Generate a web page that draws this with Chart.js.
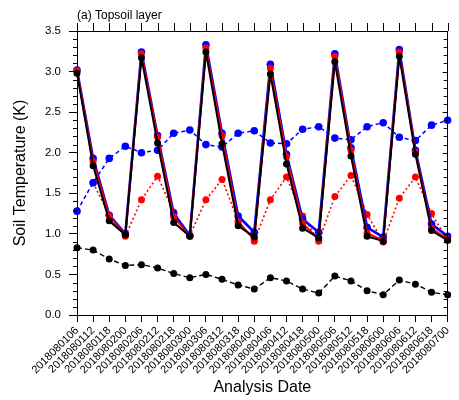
<!DOCTYPE html>
<html><head><meta charset="utf-8">
<script src="https://cdn.jsdelivr.net/npm/chart.js@4"></script>
<style>html,body{margin:0;padding:0;background:#fff}#w{width:459px;height:400px}</style>
</head><body><div id="w"><canvas id="c" width="459" height="400"></canvas></div>
<script>
const categories = ['2018080106','2018080112','2018080118','2018080200','2018080206','2018080212','2018080218','2018080300',
  '2018080306','2018080312','2018080318','2018080400','2018080406','2018080412','2018080418','2018080500',
  '2018080506','2018080512','2018080518','2018080600','2018080606','2018080612','2018080618','2018080700'];
const blueSolid  = [3.02,1.93,1.23,1.00,3.24,2.21,1.25,0.98,3.33,2.24,1.22,1.02,3.09,1.98,1.18,1.02,3.22,2.06,1.08,0.96,3.27,2.03,1.12,0.97];
const redSolid   = [3.01,1.89,1.22,0.98,3.22,2.19,1.21,0.97,3.29,2.21,1.15,0.93,3.04,1.95,1.13,0.93,3.19,2.03,1.01,0.92,3.24,2.01,1.07,0.93];
const blackSolid = [2.98,1.84,1.16,0.99,3.17,2.12,1.14,0.97,3.24,2.11,1.10,0.96,2.97,1.86,1.07,0.95,3.12,1.96,0.97,0.91,3.19,1.98,1.04,0.92];
const redDotted  = [null,1.63,1.23,0.97,1.42,1.71,1.27,0.98,1.42,1.67,1.16,0.91,1.42,1.70,1.22,0.91,1.46,1.72,1.24,0.90,1.44,1.70,1.25,0.92];
const blueDashed = [1.28,1.63,1.93,2.08,2.00,2.03,2.24,2.28,2.10,2.07,2.24,2.27,2.12,2.11,2.29,2.32,2.18,2.16,2.32,2.37,2.19,2.15,2.34,2.40];
const blackDashed= [0.83,0.80,0.69,0.61,0.62,0.58,0.51,0.46,0.50,0.44,0.37,0.32,0.46,0.42,0.32,0.27,0.48,0.42,0.30,0.25,0.43,0.38,0.28,0.25];
const yTicks = [0,0.5,1,1.5,2,2.5,3,3.5];
const titleText = '(a) Topsoil layer';
const xTitle = 'Analysis Date';
const yTitle = 'Soil Temperature (K)';

const FONT = '"Liberation Sans", Arial, Helvetica, sans-serif';

const deco = {
  id: 'deco',
  afterDraw(chart) {
    const ctx = chart.ctx, a = chart.chartArea, xs = chart.scales.x, ys = chart.scales.y;
    ctx.save();
    ctx.strokeStyle = '#000'; ctx.lineWidth = 1;
    ctx.beginPath();
    ctx.moveTo(a.left, Math.round(a.top) + 0.5); ctx.lineTo(a.right, Math.round(a.top) + 0.5);
    ctx.moveTo(Math.round(a.right) - 0.5, a.top); ctx.lineTo(Math.round(a.right) - 0.5, a.bottom);
    categories.forEach((c, i) => {
      const px = Math.round(xs.getPixelForValue(i)) + 0.5;
      ctx.moveTo(px, a.top); ctx.lineTo(px, a.top - 8);
    });
    for (let k = 0; k <= 35; k++) {
      const py = Math.round(ys.getPixelForValue(k / 10)) + 0.5;
      if (k % 5 === 0) {
        ctx.moveTo(a.right, py); ctx.lineTo(a.right - 5, py);
      } else {
        ctx.moveTo(a.left, py); ctx.lineTo(a.left - 4, py);
        ctx.moveTo(a.right, py); ctx.lineTo(a.right - 4, py);
      }
    }
    ctx.stroke();
    ctx.fillStyle = '#000';
    ctx.font = '12px ' + FONT;
    ctx.textAlign = 'left'; ctx.textBaseline = 'alphabetic';
    ctx.fillText(titleText, a.left, 19);
    ctx.font = '16px ' + FONT;
    ctx.textAlign = 'center';
    ctx.fillText(xTitle, (a.left + a.right) / 2, 392);
    ctx.translate(25, (a.top + a.bottom) / 2);
    ctx.rotate(-Math.PI / 2);
    ctx.fillText(yTitle, 0, 0);
    ctx.restore();
  }
};

function ds(data, color, width, dash, radius) {
  return { data, borderColor: color, backgroundColor: color, borderWidth: width, borderDash: dash,
    borderJoinStyle: 'round', borderCapStyle: 'butt',
    pointRadius: radius, pointBackgroundColor: color, pointBorderWidth: 0, tension: 0, fill: false };
}

new Chart(document.getElementById('c'), {
  type: 'line',
  data: {
    labels: categories,
    datasets: [
      ds(blackSolid, '#000000', 2, [], 3.5),
      ds(redSolid, '#ff0000', 2, [], 3.5),
      ds(blueSolid, '#0000ff', 2.6, [], 3.8),
      ds(blackDashed, '#000000', 1.4, [5, 3], 3.5),
      ds(blueDashed, '#0000ff', 1.5, [4, 3], 3.8),
      ds(redDotted, '#ff0000', 1.6, [2, 2.5], 3.5)
    ]
  },
  options: {
    responsive: false, animation: false, events: [],
    layout: { padding: { top: 31, right: 2, left: 0, bottom: 0 } },
    plugins: { legend: { display: false }, tooltip: { enabled: false }, title: { display: false } },
    scales: {
      x: {
        type: 'category', offset: false,
        grid: { drawOnChartArea: false, tickLength: 7, color: '#000' },
        border: { color: '#000' },
        ticks: { autoSkip: false, maxRotation: 45, minRotation: 45, color: '#000', font: { family: FONT, size: 11 }, padding: 2 },
        afterFit(s) { s.height = 85; }
      },
      y: {
        min: 0, max: 3.5,
        afterBuildTicks(s) { s.ticks = yTicks.map(v => ({ value: v })); },
        ticks: { callback: v => Number(v).toFixed(1), color: '#000', font: { family: FONT, size: 11.5 }, padding: 8 },
        grid: { drawOnChartArea: false, tickLength: 8, color: '#000' },
        border: { color: '#000' },
        afterFit(s) { s.width = 77; }
      }
    }
  },
  plugins: [deco]
});
</script>
</body></html>
